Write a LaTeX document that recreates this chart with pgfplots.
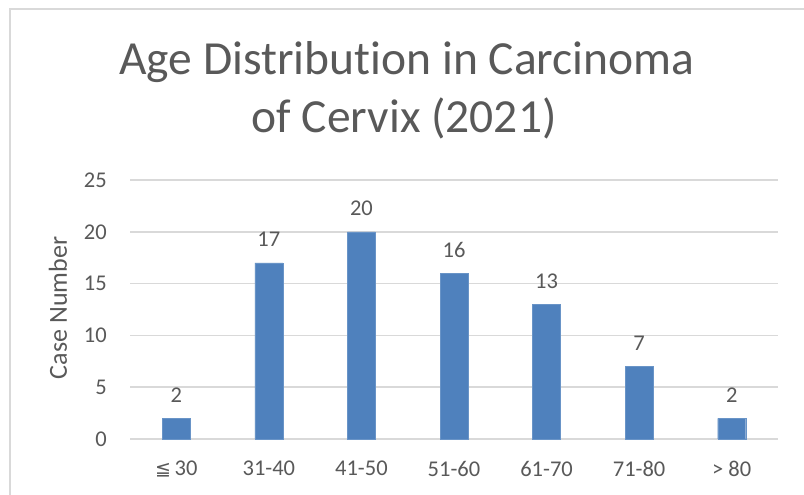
\documentclass[border=0pt]{standalone}
\usepackage{fontspec}
\setmainfont[Ligatures=NoCommon]{Carlito}
\newfontfamily\djv{DejaVu Sans}
\usepackage{pgfplots}
\pgfplotsset{compat=1.18}
\definecolor{txt}{HTML}{595959}
\definecolor{gridc}{HTML}{D9D9D9}
\definecolor{barc}{HTML}{4F81BD}
\begin{document}
\begin{tikzpicture}[x=1pt,y=1pt]
\useasboundingbox (0,0) rectangle (804,495);
\clip (0,0) rectangle (804,495);
\fill[white] (0,0) rectangle (804,495);
\draw[gridc, line width=1.5pt] (10,486) rectangle (840,-40);
\node[text=txt, font=\fontsize{47.5}{57}\selectfont, anchor=base] at (407,420) {Age Distribution in Carcinoma};
\node[text=txt, font=\fontsize{47.5}{57}\selectfont, anchor=base] at (404,362) {of Cervix (2021)};
\node[text=txt, font=\fontsize{26}{30}\selectfont, rotate=90, anchor=center] at (58,187) {Case Number};
\begin{axis}[
  at={(130pt,56pt)}, anchor=south west,
  scale only axis, width=648pt, height=259pt,
  ymin=0, ymax=25, xmin=-0.5, xmax=6.5,
  ybar, bar width=28pt,
  ytick={0,5,10,15,20,25},
  xtick={0,1,2,3,4,5,6},
  xticklabels={{\djv\fontsize{19}{22}\selectfont ≦}\,30,31-40,41-50,51-60,61-70,71-80,> 80},
  axis line style={draw=none},
  major tick length=0pt,
  ymajorgrids, grid style={gridc, line width=1.5pt},
  /pgf/number format/assume math mode=true,
  tick label style={font=\fontsize{22.5}{26}\selectfont, text=txt, inner sep=0pt},
  yticklabel style={xshift=-23pt},
  xticklabel style={yshift=-22pt},
  nodes near coords,
  every node near coord/.append style={font=\fontsize{22.5}{26}\selectfont, text=txt, anchor=base, inner sep=0pt, yshift=16pt},
  clip=false,
]
\addplot[fill=barc, draw=barc!85!white] coordinates {(0,2) (1,17) (2,20) (3,16) (4,13) (5,7) (6,2)};
\end{axis}
\end{tikzpicture}
\end{document}
